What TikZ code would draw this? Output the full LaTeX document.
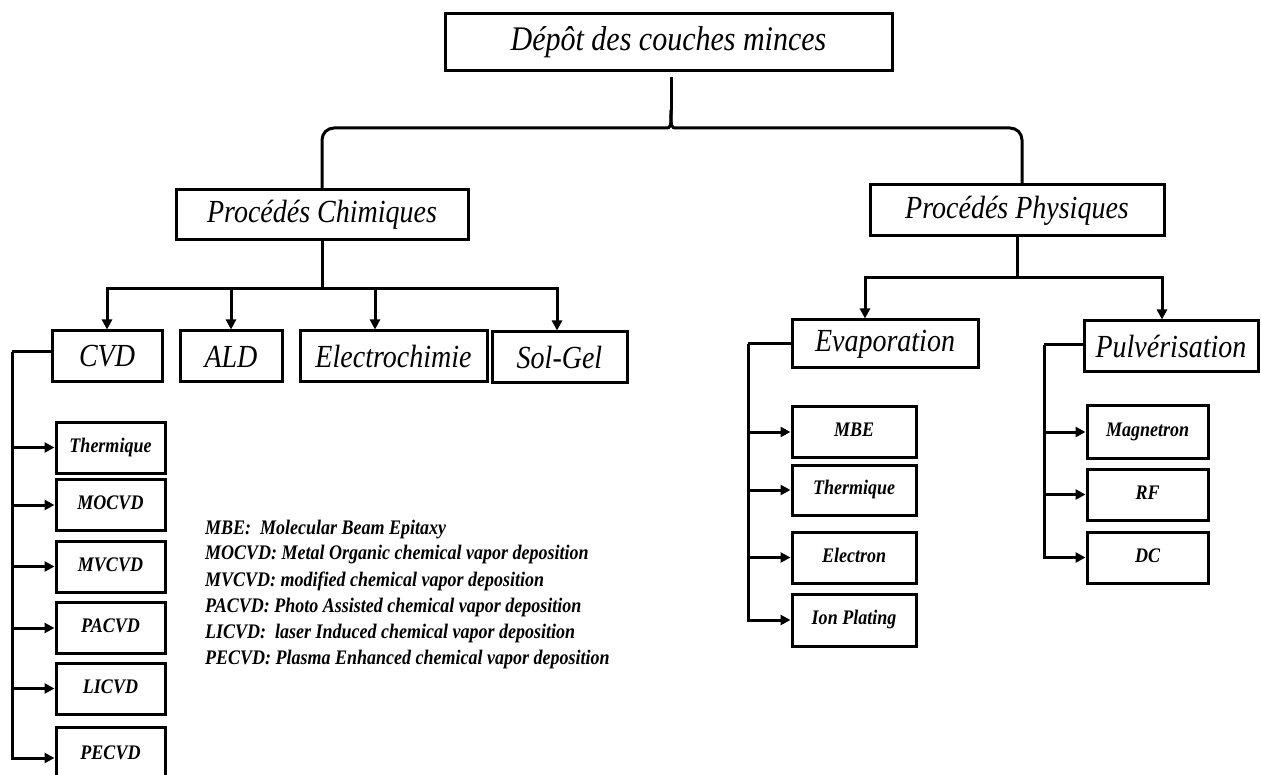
\documentclass[tikz,border=0pt]{standalone}
\usepackage{fontspec}
\setmainfont{Liberation Serif}
\usetikzlibrary{arrows.meta,calc}
\newcommand\vst[1]{\scalebox{1}[1.15]{#1}}
\newcommand\sml[1]{\raisebox{4pt}{\scalebox{1}[1.15]{#1}}}
\begin{document}
\begin{tikzpicture}[x=1pt,y=-1pt,
  ln/.style={line width=3pt},
  arr/.style={line width=3pt,-{Triangle[length=10pt,width=10pt]}},
  bx/.style={draw,line width=3pt,inner sep=0pt,align=center},
  big/.style={bx,font=\fontsize{28}{30}\selectfont\itshape},
  sm/.style={bx,minimum height=51pt,font=\fontsize{18}{20}\selectfont\bfseries\itshape},
  leg/.style={anchor=west,inner sep=0pt,font=\fontsize{18}{20}\selectfont\bfseries\itshape}]
\useasboundingbox (0,0) rectangle (1261,775);
\clip (0,0) rectangle (1261,775);

% main boxes
\node[big,minimum width=447pt,minimum height=57pt,font=\fontsize{30}{32}\selectfont\itshape] (T) at (668.5,42.5) {\vst{Dépôt des couches minces}};
\node[big,minimum width=292pt,minimum height=50pt] (PC) at (322,215) {\vst{Procédés Chimiques}};
\node[big,minimum width=294pt,minimum height=51pt] (PP) at (1017,210.5) {\vst{Procédés Physiques}};

\node[big,minimum width=110pt,minimum height=51pt] (CVD) at (107,356.5) {\vst{CVD}};
\node[big,minimum width=102pt,minimum height=51pt] (ALD) at (231,356.5) {\vst{ALD}};
\node[big,minimum width=187pt,minimum height=51pt] (EL) at (393.5,356.5) {\vst{Electrochimie}};
\node[big,minimum width=135pt,minimum height=51pt] (SG) at (559.5,357.5) {\vst{Sol-Gel}};

\node[big,minimum width=186pt,minimum height=48pt] (EV) at (885,344) {\vst{Evaporation}};
\node[big,minimum width=174pt,minimum height=51pt] (PU) at (1171,346.5) {\vst{Pulvérisation}};

% CVD sub-boxes
\node[sm,minimum width=109pt] (c1) at (110.5,447.5) {\sml{Thermique}};
\node[sm,minimum width=109pt] (c2) at (110.5,505) {\sml{MOCVD}};
\node[sm,minimum width=109pt] (c3) at (110.5,566.5) {\sml{MVCVD}};
\node[sm,minimum width=109pt] (c4) at (110.5,628) {\sml{PACVD}};
\node[sm,minimum width=109pt] (c5) at (110.5,688.5) {\sml{LICVD}};
\node[sm,minimum width=109pt,minimum height=64pt] (c6) at (110.5,759) {\raisebox{12pt}{\vst{PECVD}}};

% Evaporation sub-boxes
\node[sm,minimum width=124pt,minimum height=50pt] (e1) at (854,432) {\sml{MBE}};
\node[sm,minimum width=124pt,minimum height=50pt] (e2) at (854,490) {\sml{Thermique}};
\node[sm,minimum width=124pt] (e3) at (854,557.5) {\sml{Electron}};
\node[sm,minimum width=124pt,minimum height=52pt] (e4) at (854,620) {\sml{Ion Plating}};

% Pulverisation sub-boxes
\node[sm,minimum width=121pt,minimum height=52pt] (p1) at (1147.5,432) {\sml{Magnetron}};
\node[sm,minimum width=121pt] (p2) at (1147.5,494.5) {\sml{RF}};
\node[sm,minimum width=121pt] (p3) at (1147.5,557.5) {\sml{DC}};

% legend
\node[leg] (L1) at (205,530) {\vst{MBE:\ \ Molecular Beam Epitaxy}};
\node[leg] (L2) at (205,555) {\vst{MOCVD: Metal Organic chemical vapor deposition}};
\node[leg] (L3) at (205,581) {\vst{MVCVD: modified chemical vapor deposition}};
\node[leg] (L4) at (205,608) {\vst{PACVD: Photo Assisted chemical vapor deposition}};
\node[leg] (L5) at (205,634) {\vst{LICVD:\ \ laser Induced chemical vapor deposition}};
\node[leg] (L6) at (205,660) {\vst{PECVD: Plasma Enhanced chemical vapor deposition}};

% brace from title
\coordinate (bt) at (671,77);
\coordinate (bc) at (671,110);
\draw[ln] (bt) -- (bc);
\draw[ln,rounded corners=12pt] (bc) .. controls (671,128) .. (653,128) -- (322,128) -- (PC.north);
\draw[ln,rounded corners=12pt] (bc) .. controls (671,128) .. (689,128) -- (1022,128) -- (1022,185);

% chemical branch
\coordinate (cb) at (322,289);
\draw[ln] (PC.south) -- (cb);
\draw[arr] (cb) -| (CVD.north);
\draw[arr] (cb) -| (ALD.north);
\draw[arr] (cb) -| ($(EL.north)+(-18.5,0)$);
\draw[arr] (cb) -| ($(SG.north)+(-2.5,0)$);

% physical branch
\coordinate (pb) at (1017,278);
\draw[ln] (PP.south) -- (pb);
\draw[arr] (pb) -| ($(EV.north)+(-20,0)$);
\draw[arr] (pb) -| ($(PU.north)+(-9,0)$);

% CVD spine
\coordinate (cs) at (12,352);
\draw[ln] (CVD.west |- cs) -- (cs);
\foreach \n in {c1,c2,c3,c4,c5} {\draw[arr] (cs) |- (\n.west);}
\draw[arr] (cs) |- ($(c6.west)+(0,-1)$);

% Evaporation spine
\coordinate (es) at (748,344);
\draw[ln] (EV.west) -- (es);
\foreach \n in {e1,e2,e3,e4} {\draw[arr] (es) |- (\n.west);}

% Pulverisation spine
\coordinate (ps) at (1044,345);
\draw[ln] (PU.west |- ps) -- (ps);
\foreach \n in {p1,p2,p3} {\draw[arr] (ps) |- (\n.west);}
\end{tikzpicture}
\end{document}
